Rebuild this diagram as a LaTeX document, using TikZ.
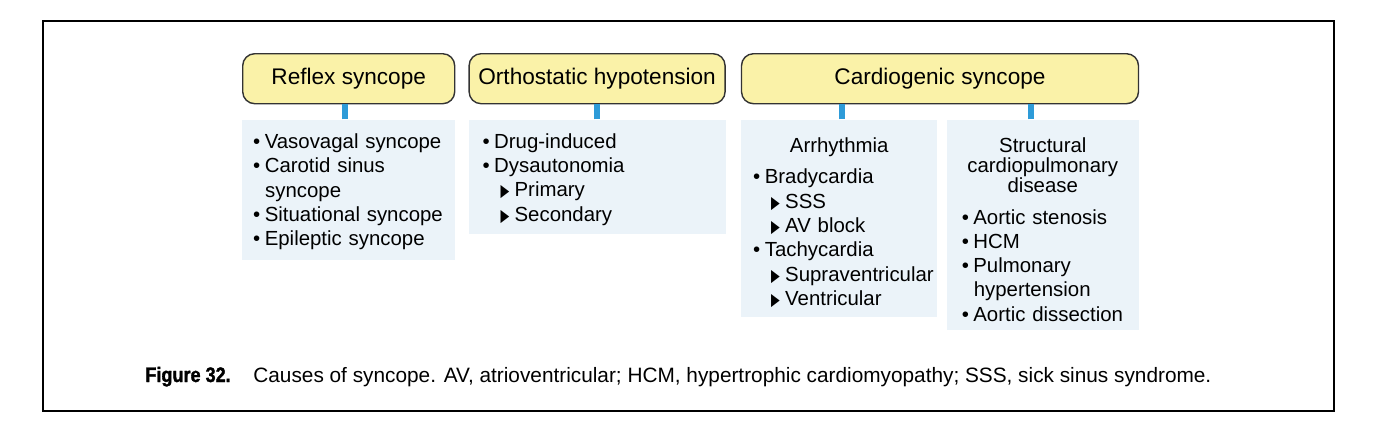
\documentclass[tikz,border=0pt]{standalone}
\usepackage{fontspec}
\setmainfont{Liberation Sans}
\newfontfamily\symfont{DejaVu Sans}
\newfontfamily\figfont[FakeStretch=0.86,FakeBold=1.5]{Liberation Sans Bold}
\usepackage{graphicx}
\usepackage{xcolor}
\usepackage{tikz}
\usetikzlibrary{positioning}
\definecolor{syncYellow}{HTML}{FAF2A8}
\definecolor{syncBlue}{HTML}{2E9BD8}
\definecolor{syncPale}{HTML}{EBF3F9}
\definecolor{syncEdge}{HTML}{333333}

\newcommand\bul[1]{\mbox{\strut\makebox[5.8pt][l]{•}#1}}
\newcommand\tri[1]{\mbox{\strut\hspace*{9pt}\makebox[7pt][l]{\symfont\fontsize{8.6}{9}\selectfont\scalebox{0.66}[1]{▶}}#1}}
\newcommand\cont[1]{\mbox{\strut\hspace*{6pt}#1}}
\newcommand\head[1]{\mbox{\strut\makebox[\linewidth]{#1}}}

\begin{document}
\begin{tikzpicture}[
  x=0.5pt,y=-0.5pt,
  title/.style={rectangle,rounded corners=6pt,draw=syncEdge,line width=0.7pt,fill=syncYellow,align=center,minimum height=25pt,font=\fontsize{11.3}{13}\selectfont},
  listbox/.style={rectangle,fill=syncPale,align=left,inner ysep=0pt,inner xsep=6pt,font=\fontsize{10.2}{12.15}\selectfont},
  link/.style={line width=3pt,color=syncBlue},
  caption/.style={anchor=base west,inner sep=0pt,font=\fontsize{10.4}{12.5}\selectfont}
]
\useasboundingbox (0,0) rectangle (1373,435);
\draw[line width=1.2pt] (43,21) rectangle (1334,411);
\node[title,anchor=north west,minimum width=106pt] (reflex) at (242,53) {Reflex syncope};
\node[title,right=6.5pt of reflex,minimum width=128pt] (ortho) {Orthostatic hypotension};
\node[title,right=7.5pt of ortho,minimum width=198.5pt] (cardio) {Cardiogenic syncope};
\node[listbox,below=7.5pt of reflex,inner xsep=5.5pt,text width=95.5pt,minimum height=70pt] (reflexlist)
  {\rule{0pt}{11pt}\bul{Vasovagal syncope}\\ \bul{Carotid sinus}\\ \cont{syncope}\\ \bul{Situational syncope}\\ \bul{Epileptic syncope}};
\node[listbox,below=7.5pt of ortho,inner xsep=7pt,text width=114.5pt,minimum height=57pt] (ortholist)
  {\rule{0pt}{11.5pt}\bul{Drug-induced}\\ \bul{Dysautonomia}\\ \tri{Primary}\\ \tri{Secondary}};
\node[listbox,below right=7.5pt and 0pt of cardio.south west,text width=86pt,minimum height=98.5pt] (arrhythmia)
  {\rule{0pt}{14.5pt}\head{Arrhythmia}\\[3.35pt] \bul{Bradycardia}\\ \tri{SSS}\\ \tri{AV block}\\ \bul{Tachycardia}\\ \tri{Supraventricular}\\ \tri{Ventricular}};
\node[listbox,below left=7.5pt and 0pt of cardio.south east,inner xsep=7.5pt,text width=81pt,minimum height=105pt] (structural)
  {\rule{0pt}{15.5pt}\head{Structural}\\[-2.15pt] \head{cardiopulmonary}\\[-2.15pt] \head{disease}\\[3.85pt] \bul{Aortic stenosis}\\ \bul{HCM}\\ \bul{Pulmonary}\\ \cont{hypertension}\\ \bul{Aortic dissection}};
\draw[link] ([xshift=-2pt]reflexlist.north) -- ([xshift=-2pt]reflexlist.north |- reflex.south);
\draw[link] (ortholist.north) -- (ortholist.north |- ortho.south);
\draw[link] ([xshift=1.5pt]arrhythmia.north) -- ([xshift=1.5pt]arrhythmia.north |- cardio.south);
\draw[link] ([xshift=-6pt]structural.north) -- ([xshift=-6pt]structural.north |- cardio.south);
\node[caption,font=\figfont\fontsize{10.5}{12.5}\selectfont] (figlabel) at (145,382) {Figure 32.};
\node[caption] (figtext) at (253,382) {Causes of syncope. AV, atrioventricular; HCM, hypertrophic cardiomyopathy; SSS, sick sinus syndrome.};
\end{tikzpicture}
\end{document}
